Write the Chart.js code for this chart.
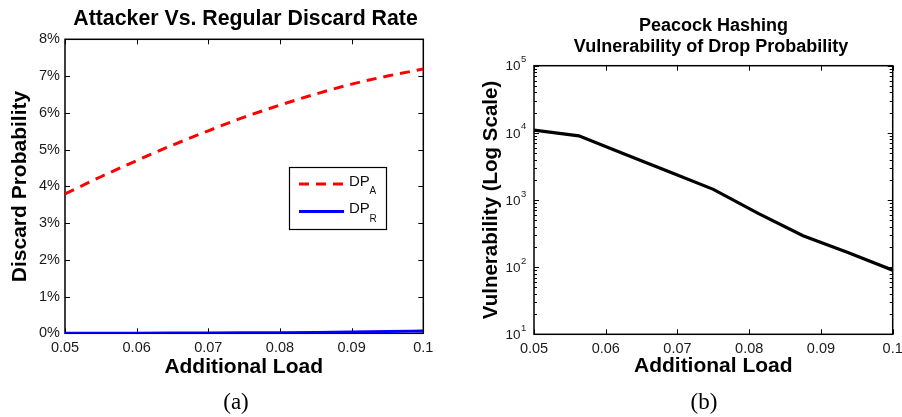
<!DOCTYPE html>
<html><head><meta charset="utf-8">
<script src="https://cdn.jsdelivr.net/npm/chart.js@4.4.1/dist/chart.umd.min.js"></script>
<style>
html,body{margin:0;padding:0;background:#fff;}
body{width:902px;height:417px;overflow:hidden;position:relative;}
#ca{position:absolute;left:0;top:0;}
#cb{position:absolute;left:450px;top:0;}
</style></head><body>
<canvas id="ca" width="450" height="417"></canvas>
<canvas id="cb" width="452" height="417"></canvas>
<script>
// ---- data ----
const loadA = [0.05,0.055,0.06,0.065,0.07,0.075,0.08,0.085,0.09,0.095,0.1];
const dpA   = [3.79,4.26,4.70,5.12,5.51,5.88,6.21,6.51,6.78,7.00,7.19];
const dpR   = [0.002,0.003,0.004,0.006,0.009,0.013,0.018,0.025,0.035,0.048,0.065];
const loadB = [0.05,0.05625,0.0625,0.06875,0.075,0.08125,0.0875,0.09375,0.1];
const vuln  = [10960,9030,4890,2650,1440,632,294,165,90];
const xTicks   = [0.05,0.06,0.07,0.08,0.09,0.1];
const pctTicks = [0,1,2,3,4,5,6,7,8];
const decades  = [10,100,1000,10000,100000];
const seriesNames = [['DP','A'],['DP','R']];

const SANS = '"Liberation Sans", Arial, Helvetica, sans-serif';
const SERIF = '"Liberation Serif", "Times New Roman", serif';

function txt(ctx, s, x, y, font, align, base, rot, color){
  ctx.save();
  ctx.font = font; ctx.fillStyle = color || '#000';
  ctx.textAlign = align || 'center'; ctx.textBaseline = base || 'middle';
  ctx.translate(x, y); if (rot) ctx.rotate(rot);
  ctx.fillText(s, 0, 0);
  ctx.restore();
}

function framePlugin(logY){
  return { id:'frame', beforeDatasetsDraw(chart){
    const {ctx, chartArea:a, scales:{x, y}} = chart;
    ctx.save(); ctx.strokeStyle = '#000'; ctx.lineWidth = 1;
    ctx.beginPath();
    x.ticks.forEach(t => { const p = Math.round(x.getPixelForValue(t.value)) + 0.5;
      ctx.moveTo(p, a.bottom); ctx.lineTo(p, a.bottom - 5);
      ctx.moveTo(p, a.top); ctx.lineTo(p, a.top + 5); });
    y.ticks.forEach(t => { const p = Math.round(y.getPixelForValue(t.value)) + 0.5;
      const len = (!logY || t.major) ? 5 : 3;
      ctx.moveTo(a.left, p); ctx.lineTo(a.left + len, p);
      ctx.moveTo(a.right, p); ctx.lineTo(a.right - len, p); });
    ctx.stroke();
    ctx.lineWidth = 1.5;
    ctx.strokeRect(a.left, a.top, a.right - a.left, a.bottom - a.top);
    ctx.restore();
  }};
}

const noGrid = {display:false, drawTicks:false, tickLength:0};
const xTickFont = {family: SANS, size: 14.5};
function xScale(h){
  return { type:'linear', min:0.05, max:0.1,
    afterBuildTicks(s){ s.ticks = xTicks.map(v => ({value:v})); },
    afterFit(s){ s.height = h; s.paddingLeft = 0; s.paddingRight = 0; },
    grid:noGrid, border:{display:false},
    ticks:{ font:xTickFont, color:'#1a1a1a', padding:6, maxRotation:0, autoSkip:false,
      callback: v => String(+v.toFixed(2)) } };
}

// ---- Chart (a) ----
const textA = { id:'textA', afterDraw(chart){
  const ctx = chart.ctx;
  txt(ctx, 'Attacker Vs. Regular Discard Rate', 245.5, 19, 'bold 21.3px ' + SANS);
  txt(ctx, 'Discard Probability', 20, 186.5, 'bold 21px ' + SANS, 'center', 'middle', -Math.PI/2);
  txt(ctx, 'Additional Load', 243.7, 367.5, 'bold 21px ' + SANS);
  txt(ctx, '(a)', 236, 409.4, '23px ' + SERIF, 'center', 'alphabetic');
  // legend
  const bx = 289.5, by = 167.5, bw = 97, bh = 62;
  ctx.save();
  ctx.fillStyle = '#fff'; ctx.fillRect(bx, by, bw, bh);
  ctx.strokeStyle = '#000'; ctx.lineWidth = 1.2; ctx.strokeRect(bx, by, bw, bh);
  const rows = [184, 211.5];
  chart.data.datasets.forEach((ds, i) => {
    ctx.save();
    ctx.strokeStyle = ds.borderColor; ctx.lineWidth = ds.borderWidth;
    ctx.setLineDash(ds.borderDash || []);
    ctx.beginPath(); ctx.moveTo(299, rows[i]); ctx.lineTo(344, rows[i]); ctx.stroke();
    ctx.restore();
    txt(ctx, seriesNames[i][0], 349, rows[i] - 2.5, '15px ' + SANS, 'left', 'middle', 0, '#111');
    txt(ctx, seriesNames[i][1], 369.5, rows[i] + 7.5, '10px ' + SANS, 'left', 'middle', 0, '#111');
  });
  ctx.restore();
}};

new Chart(document.getElementById('ca'), {
  type:'line',
  data:{ datasets:[
    { label:'DP_A', data: loadA.map((x,i)=>({x, y:dpA[i]})), borderColor:'#ff0000', borderWidth:3,
      borderDash:[10,7], pointRadius:0, cubicInterpolationMode:'monotone', fill:false },
    { label:'DP_R', data: loadA.map((x,i)=>({x, y:dpR[i]})), borderColor:'#0000ff', borderWidth:3,
      pointRadius:0, cubicInterpolationMode:'monotone', fill:false }
  ]},
  options:{ responsive:false, animation:false, devicePixelRatio:1,
    layout:{ padding:{left:0, top:39.3, right:26.7, bottom:0} },
    plugins:{ legend:{display:false}, title:{display:false}, tooltip:{enabled:false} },
    scales:{
      x: xScale(83.7),
      y: { type:'linear', min:0, max:8,
        afterBuildTicks(s){ s.ticks = pctTicks.map(v => ({value:v})); },
        afterFit(s){ s.width = 65; s.paddingTop = 0; s.paddingBottom = 0; },
        grid:noGrid, border:{display:false},
        ticks:{ font:{family:SANS, size:14.5}, color:'#1a1a1a', padding:5, callback: v => v + '%' } }
    }
  },
  plugins:[framePlugin(false), textA]
});

// ---- Chart (b) ----
const textB = { id:'textB', afterDraw(chart){
  const ctx = chart.ctx, y = chart.scales.y;
  txt(ctx, 'Peacock Hashing', 263.5, 26.3, 'bold 18px ' + SANS);
  txt(ctx, 'Vulnerability of Drop Probability', 261, 47.3, 'bold 18px ' + SANS);
  txt(ctx, 'Vulnerability (Log Scale)', 41.5, 200, 'bold 20.5px ' + SANS, 'center', 'middle', -Math.PI/2);
  txt(ctx, 'Additional Load', 263.3, 366.7, 'bold 21px ' + SANS);
  txt(ctx, '(b)', 254, 409.4, '23px ' + SERIF, 'center', 'alphabetic');
  decades.forEach(d => {
    const p = y.getPixelForValue(d);
    txt(ctx, '10', 70.5, p + 1, '13.5px ' + SANS, 'right', 'middle', 0, '#1a1a1a');
    txt(ctx, String(Math.round(Math.log10(d))), 71, p - 6, '9.5px ' + SANS, 'left', 'middle', 0, '#1a1a1a');
  });
}};

new Chart(document.getElementById('cb'), {
  type:'line',
  data:{ datasets:[
    { label:'Vulnerability', data: loadB.map((x,i)=>({x, y:vuln[i]})), borderColor:'#000', borderWidth:3.2,
      pointRadius:0, tension:0, fill:false }
  ]},
  options:{ responsive:false, animation:false, devicePixelRatio:1,
    layout:{ padding:{left:0, top:65.7, right:9.3, bottom:0} },
    plugins:{ legend:{display:false}, title:{display:false}, tooltip:{enabled:false} },
    scales:{
      x: xScale(82.7),
      y: { type:'logarithmic', min:10, max:100000,
        afterBuildTicks(s){
          const t = [];
          decades.forEach((d, i) => {
            if (i < decades.length - 1) { for (let m = 1; m <= 9; m++) t.push({value:m*d, major:m===1}); }
            else t.push({value:d, major:true});
          });
          s.ticks = t;
        },
        afterFit(s){ s.width = 84; s.paddingTop = 0; s.paddingBottom = 0; },
        grid:noGrid, border:{display:false},
        ticks:{ display:false } }
    }
  },
  plugins:[framePlugin(true), textB]
});
</script>
</body></html>
